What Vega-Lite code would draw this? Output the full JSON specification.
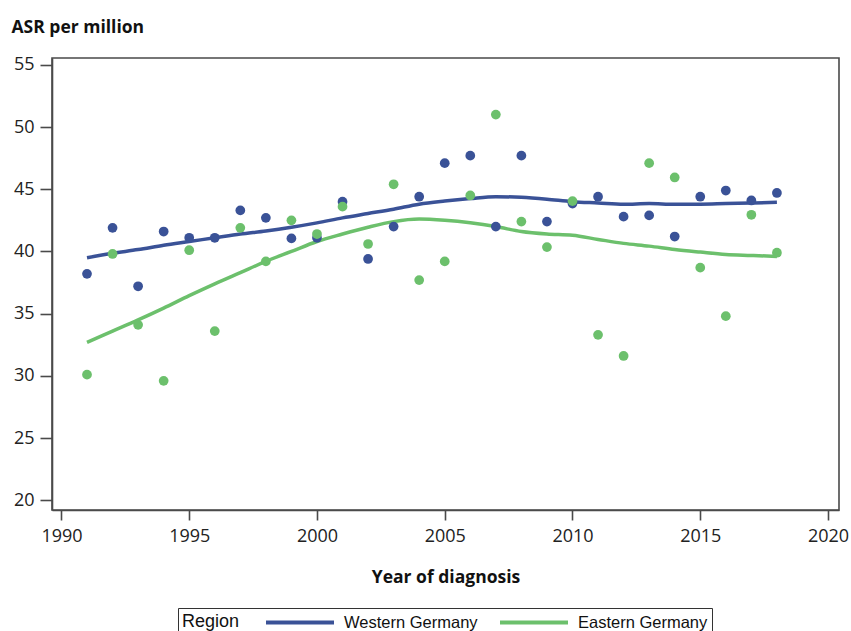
{
  "$schema": "https://vega.github.io/schema/vega-lite/v6.json",
  "width": 787,
  "height": 452,
  "autosize": {"type": "none"},
  "padding": {"left": 52, "top": 58, "right": 12, "bottom": 121},
  "background": "white",
  "config": {
    "view": {"stroke": "#4a4a4a", "strokeWidth": 1.6},
    "font": "Open Sans"
  },
  "datasets": {
    "points": [
      {"year": 1991, "region": "Western Germany", "asr": 38.2},
      {"year": 1992, "region": "Western Germany", "asr": 41.9},
      {"year": 1993, "region": "Western Germany", "asr": 37.2},
      {"year": 1994, "region": "Western Germany", "asr": 41.6},
      {"year": 1995, "region": "Western Germany", "asr": 41.1},
      {"year": 1996, "region": "Western Germany", "asr": 41.1},
      {"year": 1997, "region": "Western Germany", "asr": 43.3},
      {"year": 1998, "region": "Western Germany", "asr": 42.7},
      {"year": 1999, "region": "Western Germany", "asr": 41.05},
      {"year": 2000, "region": "Western Germany", "asr": 41.1},
      {"year": 2001, "region": "Western Germany", "asr": 44.0},
      {"year": 2002, "region": "Western Germany", "asr": 39.4},
      {"year": 2003, "region": "Western Germany", "asr": 42.0},
      {"year": 2004, "region": "Western Germany", "asr": 44.4},
      {"year": 2005, "region": "Western Germany", "asr": 47.1},
      {"year": 2006, "region": "Western Germany", "asr": 47.7},
      {"year": 2007, "region": "Western Germany", "asr": 42.0},
      {"year": 2008, "region": "Western Germany", "asr": 47.7},
      {"year": 2009, "region": "Western Germany", "asr": 42.4},
      {"year": 2010, "region": "Western Germany", "asr": 43.85},
      {"year": 2011, "region": "Western Germany", "asr": 44.4},
      {"year": 2012, "region": "Western Germany", "asr": 42.8},
      {"year": 2013, "region": "Western Germany", "asr": 42.9},
      {"year": 2014, "region": "Western Germany", "asr": 41.2},
      {"year": 2015, "region": "Western Germany", "asr": 44.4},
      {"year": 2016, "region": "Western Germany", "asr": 44.9},
      {"year": 2017, "region": "Western Germany", "asr": 44.1},
      {"year": 2018, "region": "Western Germany", "asr": 44.7},
      {"year": 1991, "region": "Eastern Germany", "asr": 30.1},
      {"year": 1992, "region": "Eastern Germany", "asr": 39.8},
      {"year": 1993, "region": "Eastern Germany", "asr": 34.1},
      {"year": 1994, "region": "Eastern Germany", "asr": 29.6},
      {"year": 1995, "region": "Eastern Germany", "asr": 40.1},
      {"year": 1996, "region": "Eastern Germany", "asr": 33.6},
      {"year": 1997, "region": "Eastern Germany", "asr": 41.9},
      {"year": 1998, "region": "Eastern Germany", "asr": 39.2},
      {"year": 1999, "region": "Eastern Germany", "asr": 42.5},
      {"year": 2000, "region": "Eastern Germany", "asr": 41.4},
      {"year": 2001, "region": "Eastern Germany", "asr": 43.6},
      {"year": 2002, "region": "Eastern Germany", "asr": 40.6},
      {"year": 2003, "region": "Eastern Germany", "asr": 45.4},
      {"year": 2004, "region": "Eastern Germany", "asr": 37.7},
      {"year": 2005, "region": "Eastern Germany", "asr": 39.2},
      {"year": 2006, "region": "Eastern Germany", "asr": 44.5},
      {"year": 2007, "region": "Eastern Germany", "asr": 51.0},
      {"year": 2008, "region": "Eastern Germany", "asr": 42.4},
      {"year": 2009, "region": "Eastern Germany", "asr": 40.35},
      {"year": 2010, "region": "Eastern Germany", "asr": 44.05},
      {"year": 2011, "region": "Eastern Germany", "asr": 33.3},
      {"year": 2012, "region": "Eastern Germany", "asr": 31.6},
      {"year": 2013, "region": "Eastern Germany", "asr": 47.1},
      {"year": 2014, "region": "Eastern Germany", "asr": 45.95},
      {"year": 2015, "region": "Eastern Germany", "asr": 38.7},
      {"year": 2016, "region": "Eastern Germany", "asr": 34.8},
      {"year": 2017, "region": "Eastern Germany", "asr": 42.95},
      {"year": 2018, "region": "Eastern Germany", "asr": 39.9}
    ],
    "fits": [
      {"year": 1991, "region": "Western Germany", "fit": 39.5},
      {"year": 1992, "region": "Western Germany", "fit": 39.85},
      {"year": 1993, "region": "Western Germany", "fit": 40.15},
      {"year": 1994, "region": "Western Germany", "fit": 40.5},
      {"year": 1995, "region": "Western Germany", "fit": 40.8},
      {"year": 1996, "region": "Western Germany", "fit": 41.1},
      {"year": 1997, "region": "Western Germany", "fit": 41.4},
      {"year": 1998, "region": "Western Germany", "fit": 41.65},
      {"year": 1999, "region": "Western Germany", "fit": 41.95},
      {"year": 2000, "region": "Western Germany", "fit": 42.3},
      {"year": 2001, "region": "Western Germany", "fit": 42.7},
      {"year": 2002, "region": "Western Germany", "fit": 43.05},
      {"year": 2003, "region": "Western Germany", "fit": 43.4},
      {"year": 2004, "region": "Western Germany", "fit": 43.8},
      {"year": 2005, "region": "Western Germany", "fit": 44.05},
      {"year": 2006, "region": "Western Germany", "fit": 44.25},
      {"year": 2007, "region": "Western Germany", "fit": 44.4},
      {"year": 2008, "region": "Western Germany", "fit": 44.35},
      {"year": 2009, "region": "Western Germany", "fit": 44.2},
      {"year": 2010, "region": "Western Germany", "fit": 44.0},
      {"year": 2011, "region": "Western Germany", "fit": 43.9},
      {"year": 2012, "region": "Western Germany", "fit": 43.8},
      {"year": 2013, "region": "Western Germany", "fit": 43.85},
      {"year": 2014, "region": "Western Germany", "fit": 43.8},
      {"year": 2015, "region": "Western Germany", "fit": 43.8},
      {"year": 2016, "region": "Western Germany", "fit": 43.85},
      {"year": 2017, "region": "Western Germany", "fit": 43.9},
      {"year": 2018, "region": "Western Germany", "fit": 43.95},
      {"year": 1991, "region": "Eastern Germany", "fit": 32.7},
      {"year": 1992, "region": "Eastern Germany", "fit": 33.6},
      {"year": 1993, "region": "Eastern Germany", "fit": 34.5},
      {"year": 1994, "region": "Eastern Germany", "fit": 35.45},
      {"year": 1995, "region": "Eastern Germany", "fit": 36.45},
      {"year": 1996, "region": "Eastern Germany", "fit": 37.4},
      {"year": 1997, "region": "Eastern Germany", "fit": 38.3},
      {"year": 1998, "region": "Eastern Germany", "fit": 39.2},
      {"year": 1999, "region": "Eastern Germany", "fit": 40.0},
      {"year": 2000, "region": "Eastern Germany", "fit": 40.8},
      {"year": 2001, "region": "Eastern Germany", "fit": 41.4},
      {"year": 2002, "region": "Eastern Germany", "fit": 41.95},
      {"year": 2003, "region": "Eastern Germany", "fit": 42.4},
      {"year": 2004, "region": "Eastern Germany", "fit": 42.6},
      {"year": 2005, "region": "Eastern Germany", "fit": 42.5},
      {"year": 2006, "region": "Eastern Germany", "fit": 42.3},
      {"year": 2007, "region": "Eastern Germany", "fit": 42.0},
      {"year": 2008, "region": "Eastern Germany", "fit": 41.6},
      {"year": 2009, "region": "Eastern Germany", "fit": 41.4},
      {"year": 2010, "region": "Eastern Germany", "fit": 41.3},
      {"year": 2011, "region": "Eastern Germany", "fit": 40.97},
      {"year": 2012, "region": "Eastern Germany", "fit": 40.65},
      {"year": 2013, "region": "Eastern Germany", "fit": 40.43},
      {"year": 2014, "region": "Eastern Germany", "fit": 40.16},
      {"year": 2015, "region": "Eastern Germany", "fit": 39.95},
      {"year": 2016, "region": "Eastern Germany", "fit": 39.76},
      {"year": 2017, "region": "Eastern Germany", "fit": 39.68},
      {"year": 2018, "region": "Eastern Germany", "fit": 39.6}
    ]
  },
  "layer": [
    {
      "data": {"name": "fits"},
      "mark": {"type": "line", "strokeWidth": 3.5, "interpolate": "monotone"},
      "encoding": {
        "x": {
          "field": "year", "type": "quantitative",
          "scale": {"domain": [1989.63, 2020.43], "nice": false, "zero": false},
          "axis": {
            "values": [1990, 1995, 2000, 2005, 2010, 2015, 2020],
            "format": "d", "grid": false,
            "title": "Year of diagnosis",
            "titleFont": "Open Sans", "titleFontSize": 17.5, "titleFontWeight": "bold",
            "titleColor": "#111", "titleBaseline": "alphabetic", "titleY": 72,
            "labelFont": "Open Sans", "labelFontSize": 18, "labelColor": "#222",
            "labelPadding": 7, "tickSize": 10, "tickColor": "#4a4a4a", "tickWidth": 1.6,
            "domainColor": "#4a4a4a", "domainWidth": 1.6
          }
        },
        "y": {
          "field": "fit", "type": "quantitative",
          "scale": {"domain": [19.22, 55.55], "nice": false, "zero": false},
          "axis": {
            "values": [20, 25, 30, 35, 40, 45, 50, 55],
            "grid": false,
            "title": "ASR per million",
            "titleFont": "Open Sans", "titleFontSize": 17.5, "titleFontWeight": "bold",
            "titleColor": "#111", "titleAngle": 0, "titleAlign": "left",
            "titleBaseline": "alphabetic", "titleX": -41, "titleY": -26,
            "labelFont": "Open Sans", "labelFontSize": 18, "labelColor": "#222",
            "labelPadding": 6, "tickSize": 12, "tickColor": "#4a4a4a", "tickWidth": 1.6,
            "domainColor": "#4a4a4a", "domainWidth": 1.6
          }
        },
        "color": {
          "field": "region", "type": "nominal",
          "scale": {"domain": ["Western Germany", "Eastern Germany"], "range": ["#3a5297", "#6cc06c"]},
          "legend": {
            "orient": "none", "legendX": 126, "legendY": 550,
            "direction": "horizontal", "title": "Region", "titleOrient": "left",
            "titleFont": "Liberation Sans", "titleFontSize": 18, "titleFontWeight": "normal",
            "titleColor": "#111", "titlePadding": 24,
            "labelFont": "Liberation Sans", "labelFontSize": 16.5, "labelColor": "#111",
            "labelOffset": 59, "columnPadding": 14,
            "symbolType": "M-1,0H7", "symbolSize": 289, "symbolStrokeWidth": 4,
            "symbolFillColor": "transparent",
            "strokeColor": "#333", "padding": 4, "fillColor": "white"
          }
        }
      }
    },
    {
      "data": {"name": "points"},
      "mark": {"type": "circle", "size": 95, "opacity": 1},
      "encoding": {
        "x": {"field": "year", "type": "quantitative"},
        "y": {"field": "asr", "type": "quantitative"},
        "color": {"field": "region", "type": "nominal", "legend": null}
      }
    }
  ]
}
